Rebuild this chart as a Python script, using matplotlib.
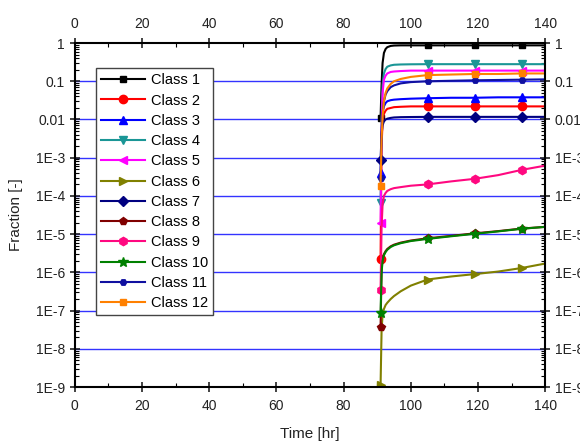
import matplotlib
matplotlib.use("Agg")
import matplotlib.pyplot as plt
import numpy as np
from matplotlib.ticker import FixedLocator, LogLocator, MultipleLocator, NullFormatter

plt.rcParams['font.family'] = ['Liberation Sans', 'DejaVu Sans']

# time points (hr); markers sit on index 0, 10, 12, 14
t = [91.0, 91.3, 91.6, 92.0, 92.5, 93.0, 94.0, 95.0, 97.0, 100.0,
     105.0, 112.0, 119.0, 126.0, 133.0, 140.0]

class1 = [0.011, 0.08, 0.3, 0.55, 0.7, 0.78, 0.84, 0.86, 0.87, 0.87,
          0.87, 0.87, 0.87, 0.87, 0.87, 0.87]
class2 = [2.3e-6, 0.002, 0.009, 0.014, 0.017, 0.019, 0.020, 0.021, 0.0215, 0.022,
          0.022, 0.022, 0.022, 0.022, 0.022, 0.022]
class3 = [4e-4, 0.005, 0.015, 0.022, 0.027, 0.03, 0.032, 0.033, 0.034, 0.035,
          0.036, 0.037, 0.037, 0.038, 0.038, 0.038]
class4 = [6.5e-5, 0.01, 0.08, 0.16, 0.21, 0.24, 0.26, 0.27, 0.275, 0.278,
          0.28, 0.28, 0.28, 0.28, 0.28, 0.28]
class5 = [1.9e-5, 0.005, 0.05, 0.11, 0.14, 0.16, 0.175, 0.18, 0.185, 0.19,
          0.19, 0.19, 0.19, 0.19, 0.19, 0.19]
class6 = [1.1e-9, 3e-8, 8e-8, 1.1e-7, 1.4e-7, 1.6e-7, 2e-7, 2.4e-7, 3.2e-7, 4.5e-7,
          6.5e-7, 7.8e-7, 9e-7, 1.05e-6, 1.3e-6, 1.7e-6]
class7 = [8.7e-4, 0.004, 0.007, 0.009, 0.01, 0.0105, 0.011, 0.0113, 0.0115, 0.0116,
          0.0117, 0.0117, 0.0117, 0.0117, 0.0117, 0.0117]
class8 = [3.7e-8, 1.2e-6, 2.2e-6, 3e-6, 3.6e-6, 4.1e-6, 4.8e-6, 5.3e-6, 6e-6, 6.8e-6,
          7.8e-6, 9e-6, 1.05e-5, 1.2e-5, 1.4e-5, 1.55e-5]
class9 = [3.4e-7, 1.5e-5, 6e-5, 1e-4, 1.2e-4, 1.35e-4, 1.5e-4, 1.6e-4, 1.7e-4, 1.85e-4,
          2.0e-4, 2.4e-4, 2.8e-4, 3.5e-4, 4.8e-4, 6.2e-4]
class10 = [8.5e-8, 1e-6, 2e-6, 2.8e-6, 3.4e-6, 3.9e-6, 4.6e-6, 5.1e-6, 5.8e-6, 6.6e-6,
           7.5e-6, 8.8e-6, 1.02e-5, 1.18e-5, 1.38e-5, 1.55e-5]
class11 = [3e-4, 0.004, 0.015, 0.03, 0.045, 0.055, 0.07, 0.078, 0.088, 0.095,
           0.1, 0.103, 0.106, 0.108, 0.11, 0.112]
class12 = [1.8e-4, 0.003, 0.012, 0.03, 0.05, 0.065, 0.085, 0.1, 0.115, 0.13,
           0.145, 0.15, 0.155, 0.155, 0.16, 0.16]

series = [class1, class2, class3, class4, class5, class6,
          class7, class8, class9, class10, class11, class12]
labels = ['Class %d' % (i + 1) for i in range(12)]
colors = ['#000000', '#ff0000', '#0000ff', '#1a9696', '#ff00ff', '#808000',
          '#000080', '#800000', '#ff0880', '#008000', '#1010a0', '#ff8000']
markers = ['s', 'o', '^', 'v', '<', '>', 'D', 'p', 'h', '*', 'H', 's']
msizes = [5, 6, 6, 6, 6, 6, 5, 6, 6, 7, 4.5, 5]

yticks = [1e-9, 1e-8, 1e-7, 1e-6, 1e-5, 1e-4, 1e-3, 1e-2, 1e-1, 1]
ylabels = ['1E-9', '1E-8', '1E-7', '1E-6', '1E-5', '1E-4', '1E-3', '0.01', '0.1', '1']

fig = plt.figure(figsize=(5.8, 4.41), dpi=100)
ax = fig.add_axes([0.129, 0.1224, 0.811, 0.78])

for yv in yticks[1:-1]:
    ax.axhline(yv, color='#0000ff', lw=1.0, alpha=0.8, zorder=0)

for vals, lab, c, m, ms in zip(series, labels, colors, markers, msizes):
    ax.plot(t, vals, color=c, lw=1.5, marker=m, ms=ms, markevery=[0, 10, 12, 14],
            label=lab)

ax.set_yscale('log')
ax.set_xlim(0, 140)
ax.set_ylim(1e-9, 1)
ax.xaxis.set_major_locator(MultipleLocator(20))
ax.xaxis.set_minor_locator(MultipleLocator(10))
ax.yaxis.set_major_locator(FixedLocator(yticks))
ax.set_yticklabels(ylabels)
ax.yaxis.set_minor_locator(LogLocator(base=10, subs=np.arange(2, 10)))
ax.yaxis.set_minor_formatter(NullFormatter())

ax.tick_params(which='major', direction='inout', length=7, width=1.2,
               top=True, right=True, labeltop=True, labelright=True,
               labelsize=10, colors='#222222')
ax.tick_params(which='major', axis='x', pad=5)
ax.tick_params(which='minor', direction='in', length=3, width=0.8,
               top=True, right=True)
for s in ax.spines.values():
    s.set_linewidth(1.5)

ax.set_xlabel('Time [hr]', fontsize=11, color='#222222', labelpad=10)
ax.set_ylabel('Fraction [-]', fontsize=11, color='#222222', labelpad=9)

leg = ax.legend(loc='upper left', bbox_to_anchor=(0.045, 0.927), fontsize=10.5,
                handlelength=3.0, labelspacing=0.43, borderpad=0.35,
                handletextpad=0.4, fancybox=False, framealpha=1,
                edgecolor='#444444', borderaxespad=0)
leg.get_frame().set_linewidth(1.0)

fig.savefig('out.png', dpi=100)
